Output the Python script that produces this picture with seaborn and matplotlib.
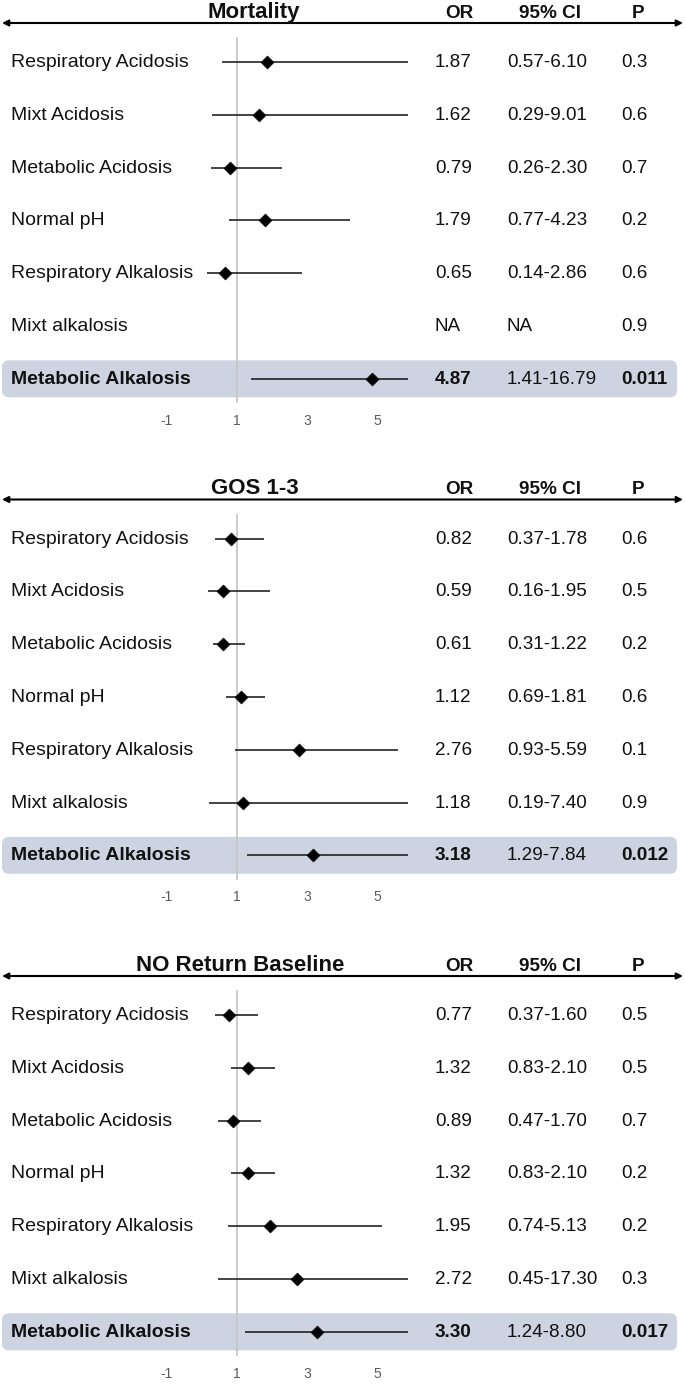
import numpy as np
import pandas as pd
import matplotlib
matplotlib.use("Agg")
import matplotlib.pyplot as plt
import seaborn as sns
from matplotlib.patches import FancyBboxPatch

# ---------------- data ----------------
panel_titles = ["Mortality", "GOS 1-3", "NO Return Baseline"]
categories = ["Respiratory Acidosis", "Mixt Acidosis", "Metabolic Acidosis",
              "Normal pH", "Respiratory Alkalosis", "Mixt alkalosis",
              "Metabolic Alkalosis"]

mortality_or = [1.87, 1.62, 0.79, 1.79, 0.65, np.nan, 4.87]
mortality_lo = [0.57, 0.29, 0.26, 0.77, 0.14, np.nan, 1.41]
mortality_hi = [6.10, 9.01, 2.30, 4.23, 2.86, np.nan, 16.79]
mortality_p = ["0.3", "0.6", "0.7", "0.2", "0.6", "0.9", "0.011"]

gos_or = [0.82, 0.59, 0.61, 1.12, 2.76, 1.18, 3.18]
gos_lo = [0.37, 0.16, 0.31, 0.69, 0.93, 0.19, 1.29]
gos_hi = [1.78, 1.95, 1.22, 1.81, 5.59, 7.40, 7.84]
gos_p = ["0.6", "0.5", "0.2", "0.6", "0.1", "0.9", "0.012"]

noret_or = [0.77, 1.32, 0.89, 1.32, 1.95, 2.72, 3.30]
noret_lo = [0.37, 0.83, 0.47, 0.83, 0.74, 0.45, 1.24]
noret_hi = [1.60, 2.10, 1.70, 2.10, 5.13, 17.30, 8.80]
noret_p = ["0.5", "0.5", "0.7", "0.2", "0.2", "0.3", "0.017"]

x_ticks = [-1, 1, 3, 5]
header_or, header_ci, header_p = "OR", "95% CI", "P"

panels = [
    (panel_titles[0], mortality_or, mortality_lo, mortality_hi, mortality_p),
    (panel_titles[1], gos_or, gos_lo, gos_hi, gos_p),
    (panel_titles[2], noret_or, noret_lo, noret_hi, noret_p),
]

# ---------------- style / layout ----------------
sns.set_theme(style="white")
plt.rcParams['font.family'] = ['Liberation Sans', 'DejaVu Sans']

W, H = 685, 1386
PANEL = 476.5
ROW0 = 62.0
STEP = 52.8
AX_H = 408.0
X1_PX, PX_PER = 237.0, 35.0
CLIP_HI = 5.9
FS = 13.6
LABEL_FS = 14.0
TITLE_FS = 16.0
TXT = "#111111"
BOX = "#cdd3e1"
title_centers = [254, 255, 240]


def pxx(px):
    return px / W


def rowy(px):
    return (px - ROW0) / STEP


fig = plt.figure(figsize=(W / 100, H / 100), dpi=100)
fig.patch.set_facecolor("white")

for i, (title, ors, los, his, ps) in enumerate(panels):
    top = i * PANEL
    ax = fig.add_axes([0, 1 - (top + AX_H) / H, 1, AX_H / H])
    ax.patch.set_visible(False)

    df = pd.DataFrame({"cat": categories, "OR": ors, "lo": los, "hi": his,
                       "p": ps, "row": np.arange(len(categories))})
    hl = len(categories) - 1

    # highlight box for last row
    x0 = 1 + (2 - X1_PX) / PX_PER
    x1 = 1 + (677 - X1_PX) / PX_PER
    box = FancyBboxPatch((x0, hl - 0.35), x1 - x0, 0.70,
                         boxstyle="round,pad=0,rounding_size=0.2",
                         mutation_aspect=PX_PER / STEP,
                         facecolor=BOX, edgecolor="none", zorder=0)
    ax.add_patch(box)

    # reference line at OR = 1
    ax.vlines(1, rowy(37), rowy(403), color="#c4c4c4", lw=1.2, zorder=1)

    # CI lines
    d = df.dropna(subset=["OR"])
    ax.hlines(d["row"], d["lo"], np.minimum(d["hi"], CLIP_HI),
              color="#1a1a1a", lw=1.15, zorder=2)
    # point estimates
    sns.scatterplot(data=d, x="OR", y="row", marker="D", s=44, color="black",
                    edgecolor="black", linewidth=0.4, legend=False, ax=ax,
                    zorder=3)

    # header arrow line
    ya = rowy(23)
    ax.annotate("", xy=(pxx(683), ya), xytext=(pxx(2), ya),
                xycoords=ax.get_yaxis_transform(),
                textcoords=ax.get_yaxis_transform(),
                arrowprops=dict(arrowstyle="<|-|>", color="black", lw=1.5,
                                mutation_scale=9, shrinkA=0, shrinkB=0))
    yb = rowy(18)
    tr = ax.get_yaxis_transform()
    ax.text(pxx(title_centers[i]), yb, title, transform=tr, ha="center",
            va="baseline", fontsize=TITLE_FS, fontweight="bold", color=TXT)
    ax.text(pxx(459), yb, header_or, transform=tr, ha="center", va="baseline",
            fontsize=FS, fontweight="bold", color=TXT)
    ax.text(pxx(550), yb, header_ci, transform=tr, ha="center", va="baseline",
            fontsize=FS, fontweight="bold", color=TXT)
    ax.text(pxx(638), yb, header_p, transform=tr, ha="center", va="baseline",
            fontsize=FS, fontweight="bold", color=TXT)

    # row texts
    for _, r in df.iterrows():
        bold = "bold" if r["row"] == hl else "normal"
        yt = r["row"] + 5.0 / STEP
        or_txt = "NA" if np.isnan(r["OR"]) else f"{r['OR']:.2f}"
        ci_txt = "NA" if np.isnan(r["lo"]) else f"{r['lo']:.2f}-{r['hi']:.2f}"
        ax.text(pxx(11), yt, r["cat"], transform=tr, ha="left", va="baseline",
                fontsize=LABEL_FS, fontweight=bold, color=TXT)
        ax.text(pxx(435), yt, or_txt, transform=tr, ha="left", va="baseline",
                fontsize=FS, fontweight=bold, color=TXT)
        ax.text(pxx(507), yt, ci_txt, transform=tr, ha="left", va="baseline",
                fontsize=FS, color=TXT)
        ax.text(pxx(621), yt, r["p"], transform=tr, ha="left", va="baseline",
                fontsize=FS, fontweight=bold, color=TXT)

    ax.set_xlim(1 - X1_PX / PX_PER, 1 + (W - X1_PX) / PX_PER)
    ax.set_ylim(rowy(AX_H), rowy(0))
    ax.set_xticks(x_ticks)
    ax.set_xticklabels([str(t) for t in x_ticks])
    ax.tick_params(axis="x", length=0, pad=4.3, labelsize=10,
                   labelcolor="#5a5a5a")
    ax.set_yticks([])
    ax.set_xlabel("")
    ax.set_ylabel("")
    for s in ax.spines.values():
        s.set_visible(False)

fig.savefig("out.png", dpi=100, facecolor="white")
